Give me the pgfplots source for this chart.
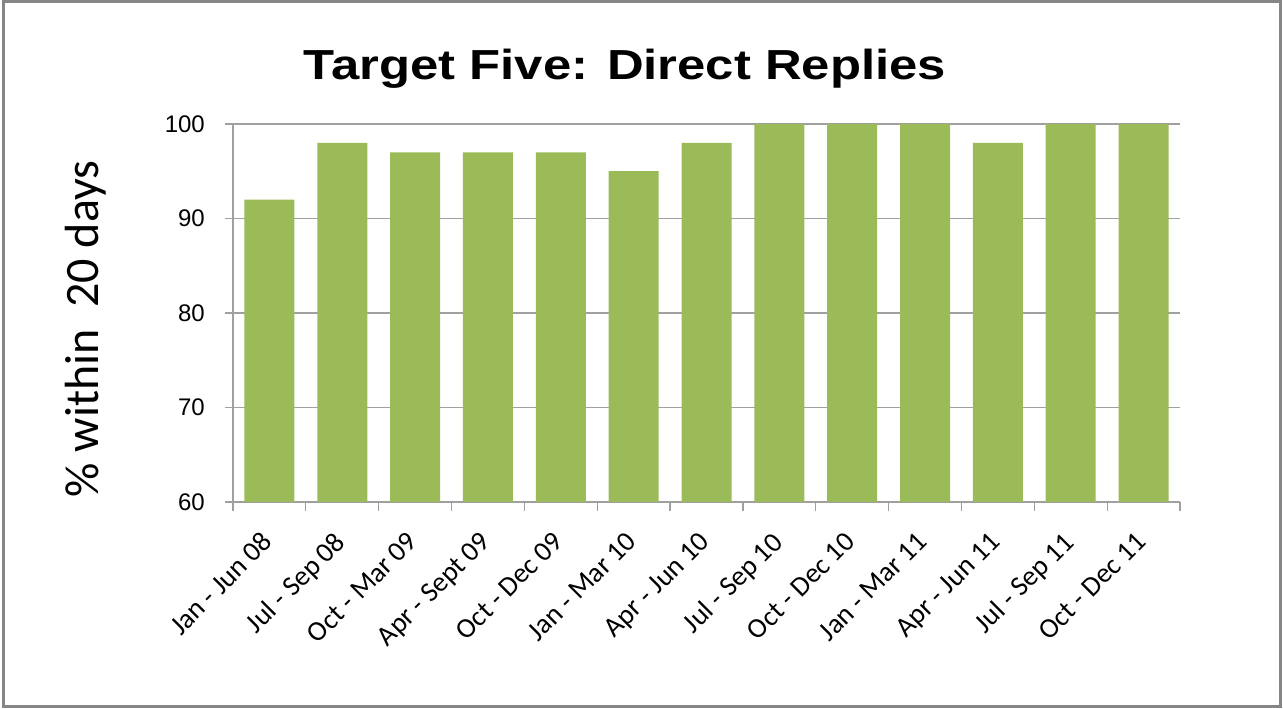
\documentclass[border=0pt]{standalone}
\usepackage{pgfplots}
\pgfplotsset{compat=1.18}
\usepackage{fontspec}
\setmainfont{Carlito}
\newfontfamily\arialf{Liberation Sans}
\newfontfamily\titlef[FakeStretch=1.21]{Liberation Sans Bold}
\newfontfamily\calf{Carlito}
\definecolor{bargreen}{RGB}{155,187,89}
\definecolor{gridgray}{RGB}{160,160,160}
\definecolor{framegray}{RGB}{134,134,134}
\begin{document}
\begin{tikzpicture}[x=1pt,y=1pt]
\path[use as bounding box] (0,0) rectangle (1283,709);
\draw[framegray, line width=3pt] (3.5,2) rectangle (1280,707.5);
\begin{axis}[
  at={(233pt,207pt)}, anchor=south west,
  scale only axis, width=947pt, height=378pt,
  xmin=-0.5, xmax=12.5, ymin=60, ymax=100,
  ybar, bar width=50pt,
  axis x line*=bottom, axis y line*=left,
  axis line style={gridgray, line width=1.3pt},
  ytick={60,70,...,100},
  ymajorgrids, grid style={gridgray, line width=1.3pt},
  xtick={0,...,12},
  xticklabels={Jan - Jun 08, Jul - Sep 08, Oct - Mar 09, Apr - Sept 09, Oct - Dec 09, Jan - Mar 10, Apr - Jun 10, Jul - Sep 10, Oct - Dec 10, Jan - Mar 11, Apr - Jun 11, Jul - Sep 11, Oct - Dec 11},
  minor xtick={-0.5,0.5,...,12.5},
  major x tick style={draw=none},
  minor x tick style={gridgray, line width=1.3pt},
  major y tick style={gridgray, line width=1.3pt},
  tick align=outside,
  major tick length=8pt, minor tick length=9pt,
  /pgf/number format/assume math mode=true,
  yticklabel style={font=\arialf\fontsize{24}{28}\selectfont, anchor=east, inner sep=0pt, xshift=-20pt},
  xticklabel style={font=\calf\fontsize{28}{32}\selectfont, inner sep=0pt, xshift=-9pt, yshift=-20pt, rotate=45, anchor=north east},
]
\addplot[fill=bargreen, draw=none] coordinates {
(0,92) (1,98) (2,97) (3,97) (4,97) (5,95) (6,98) (7,100) (8,100) (9,100) (10,98) (11,100) (12,100)};
\end{axis}
\node[font=\titlef\fontsize{42}{50}\selectfont, anchor=base] at (625,629) {Target Five: Direct Replies};
\node[rotate=90, anchor=base, font=\calf\fontsize{48}{56}\selectfont] at (98,380) {\% within\ \ 20 days};
\end{tikzpicture}
\end{document}
